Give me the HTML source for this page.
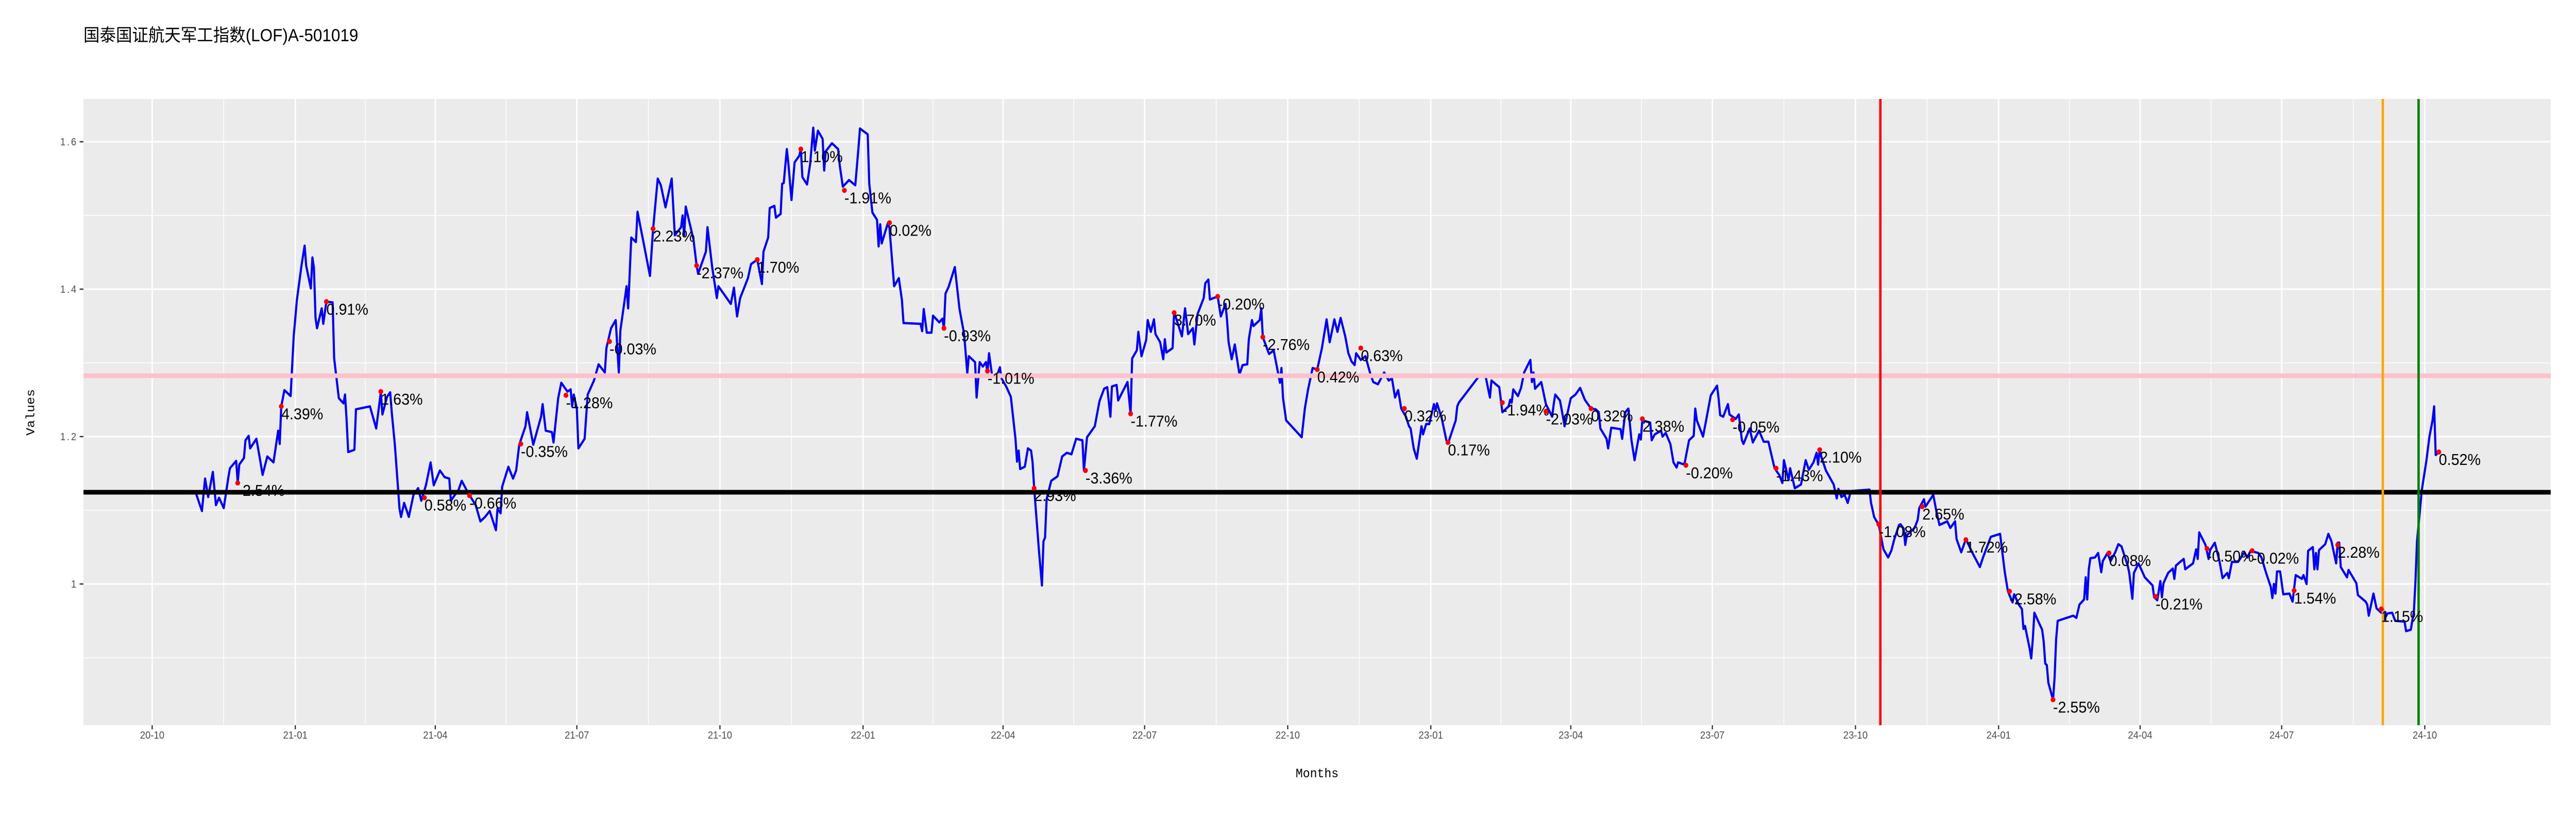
<!DOCTYPE html>
<html><head><meta charset="utf-8">
<style>
html,body{margin:0;padding:0;background:#fff;width:100%;height:100%;overflow:hidden;}
svg{display:block;width:100vw;height:100vh;}
</style></head>
<body>
<svg id="chart" xmlns="http://www.w3.org/2000/svg" viewBox="0 0 5400 1620" preserveAspectRatio="none">
  <rect x="0" y="0" width="5400" height="1620" fill="#ffffff"/>
  <text x="175" y="80" font-family="'Liberation Sans','Noto Sans CJK SC',sans-serif" font-size="34" fill="#000">国泰国证航天军工指数(LOF)A-501019</text>
  <rect x="175" y="192" width="5172" height="1215" fill="#EBEBEB"/>
  <g id="grid"></g>
  <g id="series"></g>
  <g id="axes"></g>
  <text x="2761" y="1508" text-anchor="middle" font-family="'Liberation Mono','DejaVu Sans Mono',monospace" font-size="25" fill="#000">Months</text>
  <text transform="translate(72,800) rotate(-90)" text-anchor="middle" font-family="'Liberation Mono','DejaVu Sans Mono',monospace" font-size="25" fill="#000">Values</text>
</svg>
<script>
// ---- data (day offsets since 2020-10-01) ----
const days = [28,32,34,36,39,41,43,46,49,50,54,55,56,59,60,62,63,67,69,71,74,78,81,82,83,85,89,91,93,96,98,99,102,103,104,105,106,109,110,112,116,117,120,123,124,125,126,130,131,140,144,147,148,151,153,154,156,159,160,162,165,168,171,173,176,179,181,185,188,191,192,197,199,203,208,211,214,217,221,222,224,225,229,232,234,236,240,241,245,250,251,253,257,258,261,263,267,269,270,271,273,274,278,280,284,287,291,292,295,298,300,301,305,306,308,311,312,316,320,322,325,327,330,334,336,340,341,342,343,348,350,351,356,357,360,363,364,372,374,376,378,383,385,389,392,393,396,397,400,401,404,405,406,408,
409,411,413,416,417,418,421,423,425,426,428,431,432,433,437,441,442,444,448,452,454,455,460,461,463,466,467,468,469,473,474,477,480,482,483,494,495,496,498,501,502,506,508,509,510,512,516,519,522,524,525,529,530,532,534,536,537,538,540,543,545,546,549,552,555,556,557,558,561,563,565,566,567,570,572,573,574,575,578,582,585,588,591,594,598,599,601,606,609,612,614,616,617,620,621,627,629,630,633,634,636,639,640,642,644,645,648,650,651,652,656,657,662,664,666,669,670,672,676,677,679,680,685,687,690,691,692,694,696,699,701,704,705,707,708,712,713,714,718,721,725,726,727,729,739,741,743,746,749,752,755,757,760,762,764,767,769,771,773,774,777,780,783,785,788,792,
795,797,799,801,803,806,808,809,811,813,816,817,819,821,824,825,826,829,832,833,838,839,840,853,854,857,860,861,866,868,872,873,874,875,878,880,882,886,887,888,889,893,896,900,901,902,905,906,908,912,915,918,921,925,928,930,931,935,936,938,944,945,947,949,951,953,956,957,958,963,964,966,970,971,973,976,978,980,981,985,988,991,992,993,997,999,1002,1006,1007,1008,1010,1013,1014,1018,1020,1022,1023,1027,1029,1033,1036,1039,1041,1043,1046,1048,1049,1052,1053,1056,1060,1063,1065,1068,1070,1071,1072,1073,1076,1081,1083,1084,1086,1088,1090,1092,1104,1105,1107,1110,1111,1113,1116,1118,1120,1123,1124,1126,1127,1128,1133,1135,1136,1139,1140,1145,1147,1149,1154,1156,1159,1160,1163,1166,1170,1173,1175,
1177,1182,1188,1189,1191,1193,1196,1197,1200,1202,1203,1204,1207,1208,1209,1210,1213,1215,1216,1217,1218,1219,1222,1223,1224,1225,1235,1237,1239,1242,1243,1244,1245,1246,1249,1251,1253,1254,1257,1259,1262,1264,1266,1270,1271,1273,1274,1277,1281,1286,1287,1289,1291,1292,1293,1296,1299,1300,1301,1306,1307,1312,1314,1315,1316,1320,1322,1323,1326,1329,1331,1334,1335,1337,1341,1345,1347,1349,1354,1356,1359,1362,1363,1364,1365,1366,1368,1370,1374,1376,1378,1382,1383,1385,1386,1389,1390,1391,1392,1393,1397,1399,1401,1404,1405,1406,1407,1411,1412,1417,1418,1423,1424,1425,1428,1430,1433,1434,1435,1437,1440,1442,1448,1449,1452,1454,1455,1456,1458,1459,1462,1464,1466,1467,1468,1469];
const values = [1.124,1.099,1.143,1.118,1.152,1.107,1.117,1.103,1.145,1.157,1.167,1.137,1.162,1.171,1.195,1.201,1.184,1.197,1.173,1.148,1.173,1.165,1.208,1.190,1.241,1.263,1.255,1.336,1.385,1.432,1.459,1.432,1.401,1.443,1.429,1.361,1.347,1.374,1.353,1.383,1.382,1.306,1.252,1.245,1.257,1.222,1.179,1.182,1.237,1.241,1.211,1.260,1.230,1.254,1.260,1.233,1.189,1.102,1.091,1.110,1.091,1.121,1.130,1.113,1.134,1.165,1.134,1.154,1.145,1.143,1.113,1.128,1.140,1.124,1.107,1.085,1.091,1.099,1.073,1.102,1.096,1.132,1.159,1.143,1.154,1.189,1.214,1.233,1.189,1.227,1.244,1.208,1.206,1.192,1.252,1.273,1.261,1.264,1.241,1.257,1.238,1.184,1.197,1.257,1.276,1.298,1.287,1.320,1.347,1.358,1.287,1.344,1.404,1.374,1.470,1.464,1.505,1.462,1.418,1.481,1.550,1.541,1.511,1.550,1.473,1.484,1.500,1.473,1.512,1.467,1.432,1.421,1.451,1.484,1.430,1.388,1.404,1.380,1.402,1.363,1.388,1.415,1.434,1.440,1.407,1.451,1.470,1.510,1.513,1.497,1.502,1.543,1.544,1.590,
1.570,1.521,1.572,1.581,1.590,1.552,1.542,1.570,1.619,1.588,1.615,1.604,1.561,1.587,1.598,1.590,1.568,1.539,1.548,1.541,1.590,1.618,1.610,1.543,1.504,1.494,1.458,1.488,1.462,1.490,1.483,1.404,1.415,1.385,1.354,1.353,1.343,1.373,1.341,1.341,1.364,1.355,1.360,1.347,1.394,1.403,1.430,1.373,1.339,1.286,1.309,1.301,1.253,1.301,1.295,1.301,1.287,1.313,1.282,1.282,1.294,1.279,1.268,1.254,1.197,1.166,1.181,1.156,1.159,1.184,1.181,1.165,1.130,1.047,0.998,1.058,1.063,1.115,1.140,1.146,1.173,1.178,1.176,1.197,1.195,1.154,1.199,1.214,1.248,1.265,1.267,1.227,1.268,1.270,1.249,1.274,1.231,1.306,1.317,1.342,1.309,1.331,1.358,1.342,1.359,1.339,1.328,1.305,1.332,1.314,1.320,1.369,1.336,1.374,1.339,1.347,1.325,1.366,1.388,1.408,1.413,1.386,1.390,1.363,1.380,1.358,1.328,1.305,1.325,1.284,1.297,1.298,1.332,1.358,1.350,1.358,1.374,1.335,1.312,1.317,1.273,1.293,1.252,1.222,1.199,1.238,1.263,1.293,1.291,1.320,1.359,1.328,1.359,1.342,1.361,1.336,1.313,1.302,1.297,1.313,1.304,1.309,1.286,1.274,1.271,1.287,
1.276,1.279,1.253,1.263,1.238,1.227,1.214,1.211,1.184,1.170,1.214,1.203,1.217,1.217,1.244,1.235,1.245,1.225,1.195,1.190,1.222,1.241,1.246,1.282,1.284,1.284,1.253,1.276,1.267,1.233,1.241,1.250,1.246,1.264,1.255,1.266,1.287,1.304,1.274,1.287,1.265,1.274,1.244,1.227,1.244,1.257,1.249,1.238,1.214,1.252,1.257,1.266,1.250,1.238,1.237,1.233,1.211,1.197,1.184,1.212,1.210,1.197,1.233,1.238,1.195,1.168,1.203,1.196,1.222,1.219,1.195,1.203,1.208,1.200,1.205,1.190,1.165,1.158,1.165,1.162,1.195,1.201,1.238,1.222,1.200,1.222,1.256,1.269,1.252,1.229,1.227,1.244,1.230,1.224,1.230,1.195,1.190,1.211,1.192,1.208,1.193,1.193,1.175,1.157,1.148,1.137,1.168,1.141,1.157,1.130,1.135,1.168,1.155,1.165,1.178,1.162,1.183,1.173,1.154,1.135,1.116,1.129,1.118,1.121,1.110,1.126,1.128,1.110,1.091,1.080,1.069,1.047,1.036,1.045,1.061,1.080,1.081,1.075,1.053,1.066,1.076,1.087,1.103,1.115,1.105,1.121,1.099,1.080,1.085,1.076,1.085,1.061,1.043,1.061,1.043,1.031,1.023,
1.036,1.064,1.068,1.050,1.016,0.990,0.975,0.986,0.972,0.966,0.939,0.943,0.912,0.899,0.925,0.961,0.947,0.938,0.922,0.892,0.890,0.866,0.843,0.873,0.925,0.950,0.957,0.954,0.972,0.979,1.009,0.979,1.020,1.035,1.036,1.042,1.016,1.031,1.042,1.031,1.043,1.054,1.051,1.025,1.015,0.980,1.015,1.028,1.009,0.998,0.982,0.978,1.004,0.982,1.001,1.015,1.021,1.007,1.025,1.034,1.020,1.028,1.047,1.034,1.070,1.053,1.034,1.046,1.056,1.031,1.008,1.015,1.008,1.030,1.030,1.043,1.036,1.045,1.042,1.036,1.015,0.996,0.981,1.000,0.987,1.017,1.017,0.986,0.987,0.976,1.012,1.007,1.012,1.000,1.045,1.050,1.020,1.042,1.020,1.046,1.054,1.068,1.058,1.028,1.056,1.056,1.023,1.009,1.019,1.001,0.985,0.976,0.972,0.957,0.987,0.967,0.961,0.970,0.952,0.960,0.961,0.950,0.949,0.936,0.938,0.963,1.004,1.058,1.102,1.126,1.167,1.200,1.222,1.241,1.175,1.177];
const noteDays = [55,83,112,147,175,204,237,266,294,322,350,389,417,445,474,509,537,567,600,629,657,685,714,749,777,805,833,868,896,925,958,986,1016,1044,1072,1110,1138,1166,1194,1222,1258,1288,1321,1350,1377,1405,1433,1470];
const noteValues = [1.137,1.241,1.383,1.261,1.117,1.120,1.190,1.256,1.329,1.482,1.432,1.440,1.590,1.534,1.490,1.347,1.289,1.130,1.154,1.231,1.368,1.390,1.335,1.291,1.320,1.238,1.192,1.246,1.234,1.238,1.224,1.161,1.223,1.157,1.182,1.081,1.105,1.060,0.990,0.843,1.042,0.983,1.048,1.045,0.991,1.053,0.966,1.179];
const noteLabels = ["-2.54%","4.39%","0.91%","1.63%","0.58%","-0.66%","-0.35%","-1.28%","-0.03%","2.23%","-2.37%","1.70%","1.10%","-1.91%","0.02%","-0.93%","-1.01%","2.93%","-3.36%","-1.77%","3.70%","-0.20%","-2.76%","0.42%","0.63%","0.32%","0.17%","-1.94%","-2.03%","0.32%","2.38%","-0.20%","-0.05%","-1.43%","2.10%","-1.08%","2.65%","1.72%","-2.58%","-2.55%","0.08%","-0.21%","-0.50%","-0.02%","1.54%","2.28%","1.15%","0.52%"];
const hLineValues = [1.2825, 1.1245];
const vLineDays = [1111, 1434, 1457];
const xTickDays = [0,92,182,273,365,457,547,638,730,822,912,1003,1095,1187,1278,1369,1461];
const xTickLabels = ["20-10","21-01","21-04","21-07","21-10","22-01","22-04","22-07","22-10","23-01","23-04","23-07","23-10","24-01","24-04","24-07","24-10"];
const yTickValues = [1.0,1.2,1.4,1.6];
const yTickLabels = ["1","1.2","1.4","1.6"];
const yMinorValues = [0.9,1.1,1.3,1.5];

// ---- scales ----
const PL=175, PR=5347, PT=192, PB=1407;
function xScale(d){ return 319 + d*3.2608; }
function yScale(v){ return 275 + (1.6 - v)*1430; }
const NS="http://www.w3.org/2000/svg";
function mk(tag, attrs, parent){ const e=document.createElementNS(NS,tag); for(const k in attrs) e.setAttribute(k, attrs[k]); parent.appendChild(e); return e; }

const grid=document.getElementById('grid'), series=document.getElementById('series'), axes=document.getElementById('axes');

for(let i=0;i<xTickDays.length-1;i++){
  const x=xScale((xTickDays[i]+xTickDays[i+1])/2);
  const l=mk('line',{x1:x,x2:x,y1:PT,y2:PB,stroke:'#fff','stroke-width':1.5},grid);
  
  
}
yMinorValues.forEach(v=>{
  const y=yScale(v);
  const l=mk('line',{x1:PL,x2:PR,y1:y,y2:y,stroke:'#fff','stroke-width':1.5},grid);
  
  
});
xTickDays.forEach((d,i)=>{
  const x=xScale(d);
  const l=mk('line',{x1:x,x2:x,y1:PT,y2:PB,stroke:'#fff','stroke-width':3},grid);
  
  
  const t=mk('line',{x1:x,x2:x,y1:PB,y2:PB+8,stroke:'#333','stroke-width':2.5},axes);
  
  
  const tx=mk('text',{x:x,y:1433,'text-anchor':'middle','font-family':"'Liberation Sans',sans-serif",'font-size':20,fill:'#4D4D4D'},axes);
  tx.textContent=xTickLabels[i];
  
  
});
yTickValues.forEach((v,i)=>{
  const y=yScale(v);
  const l=mk('line',{x1:PL,x2:PR,y1:y,y2:y,stroke:'#fff','stroke-width':3},grid);
  
  
  const t=mk('line',{x1:PL-8,x2:PL,y1:y,y2:y,stroke:'#333','stroke-width':2.5},axes);
  
  
  const tx=mk('text',{x:PL-12,y:y+7,'text-anchor':'end','font-family':"'Liberation Sans',sans-serif",'font-size':20,fill:'#4D4D4D','letter-spacing':3},axes);
  tx.textContent=yTickLabels[i];
  
  
});

let dstr='';
days.forEach((d,i)=>{ dstr += (i?'L':'M') + xScale(d).toFixed(1) + ',' + yScale(values[i]).toFixed(1); });
const path=mk('path',{d:dstr,fill:'none',stroke:'#0000FF','stroke-width':4.5,'stroke-linejoin':'round'},series);



const hColors=['#FFC0CB','#000000'], hWidths=[9,9];
hLineValues.forEach((v,i)=>{
  const y=yScale(v);
  const l=mk('line',{x1:PL,x2:PR,y1:y,y2:y,stroke:hColors[i],'stroke-width':hWidths[i]},series);
  
  
});
const vColors=['#FF0000','#FFA500','#008000'];
vLineDays.forEach((d,i)=>{
  const x=xScale(d);
  const l=mk('line',{x1:x,x2:x,y1:PT,y2:PB,stroke:vColors[i],'stroke-width':5},series);
  
  
});
noteDays.forEach((d,i)=>{
  const x=xScale(d), y=yScale(noteValues[i]);
  const c=mk('circle',{cx:x,cy:y,r:5,fill:'#FF0000'},series);
  
  
  const t=mk('text',{x:x,y:y+25,'font-family':"'Liberation Sans','Noto Sans CJK SC',sans-serif",'font-size':31,fill:'#000'},series);
  t.textContent=noteLabels[i];
  
  
});
</script>
</body></html>
